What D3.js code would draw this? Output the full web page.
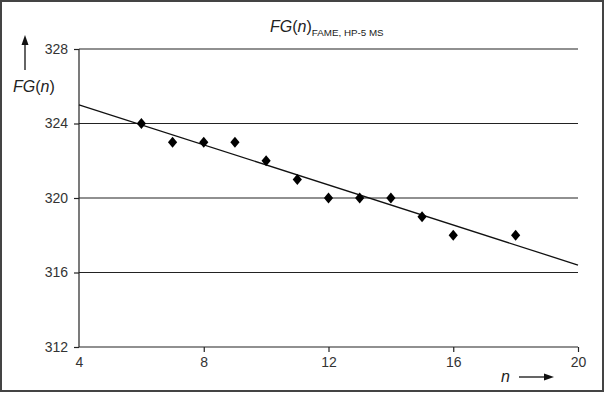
<!DOCTYPE html>
<html><head><meta charset="utf-8">
<script src="https://cdn.jsdelivr.net/npm/d3@7"></script>
<style>body{margin:0;background:#fff}svg{display:block}</style>
</head><body>
<script>
const nValues = [6,7,8,9,10,11,12,13,14,15,16,18];
const fgValues = [324,323,323,323,322,321,320,320,320,319,318,318];
const trendN = [4,20];
const trendFG = [325.0,316.4];
const xTicks = [4,8,12,16,20];
const yTicks = [312,316,320,324,328];

const W=605,H=393;
const svg=d3.select("body").append("svg").attr("width",W).attr("height",H);
svg.append("rect").attr("x",1).attr("y",1).attr("width",W-3).attr("height",H-3)
  .attr("fill","#fff").attr("stroke","#444").attr("stroke-width",2);

const x=d3.scaleLinear().domain([4,20]).range([79,578]);
const y=d3.scaleLinear().domain([312,328]).range([347,49]);
const font="Arial, 'Liberation Sans', sans-serif";

// gridlines
svg.append("g").selectAll("line").data(yTicks.filter(d=>d>312)).join("line")
  .attr("x1",x(4)).attr("x2",x(20)).attr("y1",d=>y(d)).attr("y2",d=>y(d))
  .attr("stroke","#222").attr("stroke-width",1.2);

// y axis
const ya=svg.append("g").attr("transform",`translate(${x(4)},0)`)
  .call(d3.axisLeft(y).tickValues(yTicks).tickSize(5).tickPadding(6));
ya.select(".domain").attr("stroke","#222").attr("stroke-width",1.2).attr("d",`M0,${y(312)}V${y(328)}`);
ya.selectAll(".tick line").attr("stroke","#222").attr("stroke-width",1.2);
ya.selectAll("text").attr("font-family",font).attr("font-size",14).attr("fill","#333");

// x axis
const xa=svg.append("g").attr("transform",`translate(0,${y(312)})`)
  .call(d3.axisBottom(x).tickValues(xTicks).tickSize(5).tickPadding(5));
xa.select(".domain").attr("stroke","#222").attr("stroke-width",1.2).attr("d",`M${x(4)},0H${x(20)}`);
xa.selectAll(".tick line").attr("stroke","#222").attr("stroke-width",1.2);
xa.selectAll(".tick").filter(d=>d===4).select("line").remove();
xa.selectAll("text").attr("font-family",font).attr("font-size",14).attr("fill","#333");

// trend line
svg.append("path").datum(trendN.map((n,i)=>[n,trendFG[i]]))
  .attr("d",d3.line().x(d=>x(d[0])).y(d=>y(d[1])))
  .attr("fill","none").attr("stroke","#111").attr("stroke-width",1.3);

// diamonds
svg.append("g").selectAll("path").data(nValues.map((n,i)=>[n,fgValues[i]])).join("path")
  .attr("d",d=>{const cx=x(d[0]),cy=y(d[1]);return `M${cx},${cy-5.5}L${cx+4.6},${cy}L${cx},${cy+5.5}L${cx-4.6},${cy}Z`;})
  .attr("fill","#000");

// title
const t=svg.append("text").attr("x",270).attr("y",32).attr("font-family",font).attr("fill","#222");
t.append("tspan").attr("font-size",16).attr("font-style","italic").text("FG");
t.append("tspan").attr("font-size",16).text("(");
t.append("tspan").attr("font-size",16).attr("font-style","italic").text("n");
t.append("tspan").attr("font-size",16).text(")");
t.append("tspan").attr("font-size",9.8).attr("dy",4).text("FAME, HP-5 MS");

// y label
const yl=svg.append("text").attr("x",13).attr("y",92).attr("font-family",font).attr("font-size",16).attr("fill","#222");
yl.append("tspan").attr("font-style","italic").text("FG");
yl.append("tspan").text("(");
yl.append("tspan").attr("font-style","italic").text("n");
yl.append("tspan").text(")");
svg.append("line").attr("x1",25).attr("x2",25).attr("y1",70).attr("y2",42).attr("stroke","#111").attr("stroke-width",1.3);
svg.append("path").attr("d","M25,35L21.5,45L28.5,45Z").attr("fill","#111");

// x label
svg.append("text").attr("x",501).attr("y",382).attr("font-family",font).attr("font-size",16)
  .attr("font-style","italic").attr("fill","#222").text("n");
svg.append("line").attr("x1",519).attr("x2",546).attr("y1",377).attr("y2",377).attr("stroke","#111").attr("stroke-width",1.3);
svg.append("path").attr("d","M554,377L544,373.5L544,380.5Z").attr("fill","#111");
</script>
</body></html>
